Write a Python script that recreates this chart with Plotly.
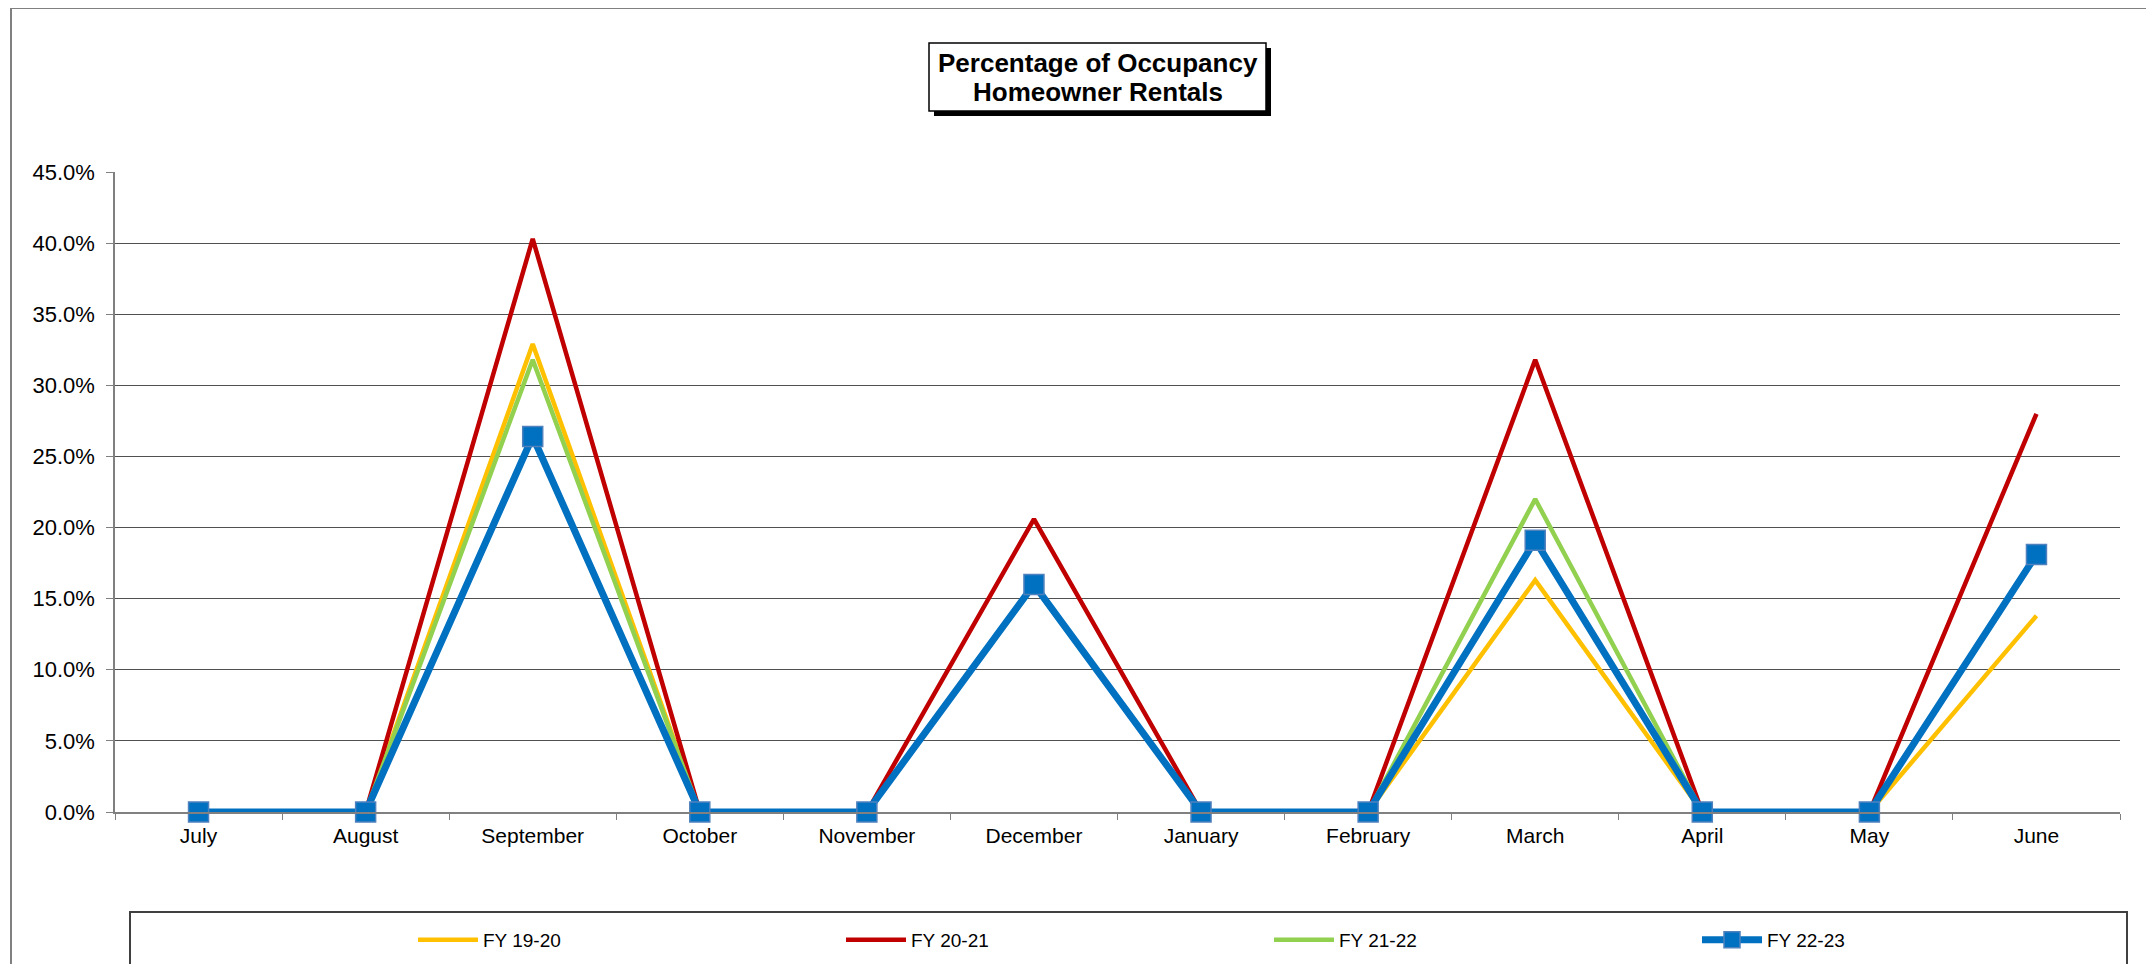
import plotly.graph_objects as go

months = ["July", "August", "September", "October", "November", "December",
          "January", "February", "March", "April", "May", "June"]
fy_19_20 = [0, 0, 0.329, 0, 0, 0.160, 0, 0, 0.163, 0, 0, 0.138]
fy_20_21 = [0, 0, 0.403, 0, 0, 0.206, 0, 0, 0.318, 0, 0, 0.280]
fy_21_22 = [0, 0, 0.318, 0, 0, 0.159, 0, 0, 0.220, 0, 0, 0.181]
fy_22_23 = [0, 0, 0.264, 0, 0, 0.160, 0, 0, 0.191, 0, 0, 0.181]
series_names = ["FY 19-20", "FY 20-21", "FY 21-22", "FY 22-23"]
title_lines = ["Percentage of Occupancy", "Homeowner Rentals"]

FONT = "Liberation Sans, Arial, sans-serif"
OFF = 8  # default page body margin
W, H = 2154 - OFF, 964 - OFF
# plot area in page pixels: x 115..2120, y 172..812
ML, MR = 115 - OFF, W - (2120 - OFF)
MT, MB = 172 - OFF, H - (812 - OFF)
PW, PH = W - ML - MR, H - MT - MB


def px(x):
    return (x - OFF - ML) / PW


def py(y):
    return (H - MB - (y - OFF)) / PH


fig = go.Figure()
fig.add_trace(go.Scatter(x=months, y=fy_19_20, name=series_names[0], mode="lines",
                         line=dict(color="#FFC000", width=4.5), cliponaxis=False))
fig.add_trace(go.Scatter(x=months, y=fy_20_21, name=series_names[1], mode="lines",
                         line=dict(color="#C00000", width=4.5), cliponaxis=False))
fig.add_trace(go.Scatter(x=months, y=fy_21_22, name=series_names[2], mode="lines",
                         line=dict(color="#92D050", width=4.5), cliponaxis=False))
fig.add_trace(go.Scatter(x=months, y=fy_22_23, name=series_names[3], mode="lines+markers",
                         line=dict(color="#0070C0", width=7),
                         marker=dict(symbol="square", size=20, color="#0070C0",
                                     line=dict(color="#4F81BD", width=1.5)),
                         cliponaxis=False))

shapes = [
    # outer chart frame
    dict(type="rect", xref="paper", yref="paper", x0=px(11), x1=px(2170), y0=py(990), y1=py(8),
         line=dict(color="#808080", width=2), fillcolor="rgba(0,0,0,0)", layer="below"),
    # legend box
    dict(type="rect", xref="paper", yref="paper", x0=px(130), x1=px(2127), y0=py(990), y1=py(912),
         line=dict(color="#404040", width=2), fillcolor="rgba(0,0,0,0)", layer="below"),
    # title shadow
    dict(type="rect", xref="paper", yref="paper", x0=px(934), x1=px(1271), y0=py(116), y1=py(48),
         line=dict(color="black", width=0), fillcolor="black", layer="above"),
    # title box
    dict(type="rect", xref="paper", yref="paper", x0=px(929), x1=px(1266), y0=py(111), y1=py(43),
         line=dict(color="black", width=1.5), fillcolor="white", layer="above"),
]

annotations = [
    dict(text="<b>" + title_lines[0] + "</b>", xref="paper", yref="paper",
         x=px(1097.5), y=py(63), xanchor="center", yanchor="middle",
         showarrow=False, font=dict(size=26, family=FONT, color="black")),
    dict(text="<b>" + title_lines[1] + "</b>", xref="paper", yref="paper",
         x=px(1097.5), y=py(92), xanchor="center", yanchor="middle",
         showarrow=False, font=dict(size=26, family=FONT, color="black")),
]

fig.update_layout(
    width=W, height=H,
    margin=dict(l=ML, r=MR, t=MT, b=MB, autoexpand=False),
    paper_bgcolor="white", plot_bgcolor="white",
    font=dict(family=FONT, color="black"),
    shapes=shapes,
    annotations=annotations,
    showlegend=True,
    legend=dict(orientation="h", x=px(413), y=py(940), xanchor="left", yanchor="middle",
                font=dict(size=19, family=FONT, color="black"),
                itemwidth=60,
                entrywidth=353, entrywidthmode="pixels", bgcolor="rgba(0,0,0,0)",
                itemclick=False),
    xaxis=dict(type="category", tickson="boundaries", range=[-0.5, 11.5],
               showline=True, linecolor="#808080",
               linewidth=1.5, ticks="outside", ticklen=6, tickcolor="#808080",
               ticklabelstandoff=4,
               tickfont=dict(size=21, family=FONT), showgrid=False, zeroline=False,
               fixedrange=True),
    yaxis=dict(range=[0, 0.45], dtick=0.05, tickformat=".1%", showline=True,
               linecolor="#808080", linewidth=1.5, ticks="outside", ticklen=7,
               tickcolor="#808080", ticklabelstandoff=7,
               tickfont=dict(size=22, family=FONT), showgrid=True,
               gridcolor="#505050", gridwidth=1, zeroline=False, fixedrange=True),
)

fig.write_html("out.html")
